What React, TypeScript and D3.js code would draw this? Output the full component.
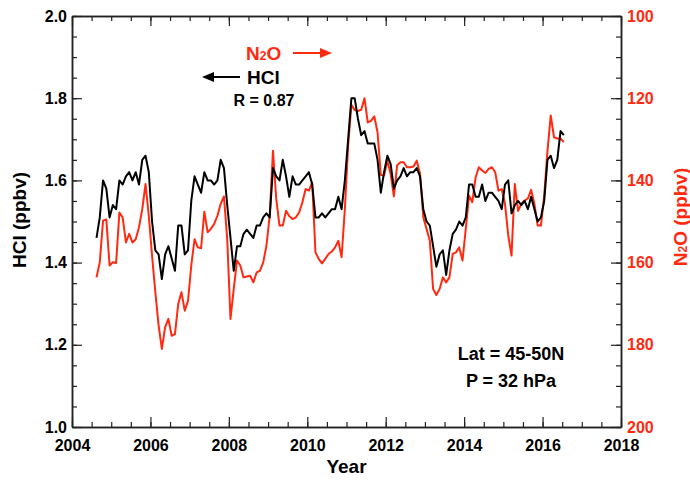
import * as d3 from "d3";
import { useEffect, useRef } from "react";

// monthly means, first month Aug 2004
const startYear = 2004;
const startMonth = 8;

const hcl = [
  1.46, 1.51, 1.6, 1.58, 1.51, 1.54, 1.53, 1.6, 1.59, 1.61, 1.62, 1.6, 1.62, 1.59, 1.65, 1.66,
  1.62, 1.5, 1.43, 1.42, 1.36, 1.42, 1.44, 1.41, 1.38, 1.49, 1.49, 1.42, 1.43, 1.55, 1.61, 1.59,
  1.57, 1.62, 1.6, 1.6, 1.59, 1.6, 1.65, 1.63, 1.54, 1.46, 1.38, 1.44, 1.44, 1.47, 1.48, 1.47,
  1.46, 1.49, 1.49, 1.51, 1.52, 1.51, 1.63, 1.61, 1.6, 1.65, 1.61, 1.56, 1.61, 1.59, 1.59, 1.6,
  1.61, 1.62, 1.59, 1.51, 1.51, 1.52, 1.51, 1.52, 1.53, 1.53, 1.56, 1.53, 1.6, 1.7, 1.8, 1.8,
  1.75, 1.71, 1.72, 1.69, 1.69, 1.69, 1.65, 1.57, 1.62, 1.66, 1.64, 1.58, 1.6, 1.61, 1.63, 1.61,
  1.62, 1.62, 1.63, 1.61, 1.53, 1.5, 1.49, 1.44, 1.39, 1.42, 1.43, 1.37, 1.43, 1.47, 1.48, 1.5,
  1.49, 1.51, 1.59, 1.59, 1.56, 1.56, 1.59, 1.55, 1.57, 1.57, 1.56, 1.55, 1.53, 1.59, 1.6, 1.52,
  1.54, 1.55, 1.54, 1.55, 1.53, 1.56, 1.53, 1.5, 1.51, 1.55, 1.65, 1.66, 1.63, 1.65, 1.72, 1.71,
];

const n2o = [
  163.6, 159.9, 149.8, 149.5, 160.7, 159.9, 160.1, 147.8, 149.0, 155.1, 153.0, 155.1, 154.3, 151.4, 147.0, 140.9,
  148.6, 158.3, 167.2, 175.3, 181.0, 175.7, 173.7, 177.8, 177.4, 170.1, 167.2, 171.7, 169.3, 160.7, 154.3, 156.3,
  156.5, 147.6, 152.6, 151.8, 150.6, 148.6, 145.7, 143.9, 154.3, 173.7, 166.4, 159.5, 160.7, 163.6, 163.4, 163.2,
  164.8, 162.4, 162.0, 160.0, 155.9, 148.6, 132.8, 144.5, 151.0, 151.0, 147.4, 148.7, 149.4, 149.0, 147.8, 145.3,
  142.1, 142.5, 140.5, 157.5, 159.1, 160.2, 159.1, 157.9, 157.3, 156.3, 154.7, 158.7, 147.0, 131.5, 121.6, 122.9,
  123.1, 122.8, 120.0, 125.9, 125.5, 124.4, 128.3, 138.7, 138.8, 135.2, 138.4, 143.9, 136.3, 135.6, 135.6, 136.8,
  136.8, 136.6, 135.2, 138.4, 149.0, 151.8, 154.7, 166.4, 167.9, 166.4, 163.6, 164.8, 163.6, 157.9, 157.5, 156.3,
  159.5, 151.8, 143.7, 145.3, 139.3, 136.8, 137.6, 138.2, 137.2, 136.8, 138.0, 142.5, 142.1, 145.7, 153.4, 158.3,
  140.9, 147.4, 145.7, 144.9, 144.4, 142.3, 145.7, 151.0, 151.0, 143.7, 132.8, 124.2, 129.5, 129.8, 129.8, 130.7,
];

const yearTicks = [2004, 2006, 2008, 2010, 2012, 2014, 2016, 2018];
const hclTicks = [1.0, 1.2, 1.4, 1.6, 1.8, 2.0];
const n2oTicks = [100, 120, 140, 160, 180, 200];

const RED = "#ff2a10";
const FONT = "'Liberation Sans', Arial, Helvetica, sans-serif";

export default function App() {
  const ref = useRef<SVGSVGElement>(null);

  useEffect(() => {
    const svg = d3.select(ref.current);
    const width = 690;
    const height = 480;
    const margin = { top: 16, right: 69, bottom: 53, left: 72 };

    svg.selectAll("*").remove();

    const x = d3.scaleLinear().domain([2004, 2018]).range([margin.left, width - margin.right]);
    const yL = d3.scaleLinear().domain([1.0, 2.0]).range([height - margin.bottom, margin.top]);
    const yR = d3.scaleLinear().domain([200, 100]).range([height - margin.bottom, margin.top]);

    const t = (i: number) => startYear + (startMonth - 1 + i + 0.5) / 12;

    const styleAxis = (g: d3.Selection<SVGGElement, unknown, null, undefined>, color = "#000") => {
      g.select(".domain").attr("stroke", "#222").attr("stroke-width", 1.5);
      g.selectAll(".tick line").attr("stroke", "#222").attr("stroke-width", 1.2);
      g.selectAll("text")
        .attr("fill", color)
        .attr("font-family", FONT)
        .attr("font-weight", "bold")
        .attr("font-size", 16);
    };

    const bottom = height - margin.bottom;
    const right = width - margin.right;

    // minor ticks
    const minorX = d3.range(2004, 2018.01, 0.5);
    const minorL = d3.range(1.0, 2.001, 0.05);
    const minorR = d3.range(100, 200.1, 5);

    svg.append("g").attr("transform", `translate(0,${bottom})`)
      .call(d3.axisBottom(x).tickValues(minorX).tickSize(-5).tickSizeOuter(0).tickFormat(() => ""))
      .call((g) => styleAxis(g));
    svg.append("g").attr("transform", `translate(0,${margin.top})`)
      .call(d3.axisTop(x).tickValues(minorX).tickSize(-5).tickSizeOuter(0).tickFormat(() => ""))
      .call((g) => styleAxis(g));
    svg.append("g").attr("transform", `translate(${margin.left},0)`)
      .call(d3.axisLeft(yL).tickValues(minorL).tickSize(-5).tickSizeOuter(0).tickFormat(() => ""))
      .call((g) => styleAxis(g));
    svg.append("g").attr("transform", `translate(${right},0)`)
      .call(d3.axisRight(yR).tickValues(minorR).tickSize(-5).tickSizeOuter(0).tickFormat(() => ""))
      .call((g) => styleAxis(g));

    // major ticks
    svg.append("g").attr("transform", `translate(0,${bottom})`)
      .call(d3.axisBottom(x).tickValues(yearTicks).tickSize(-10).tickSizeOuter(0).tickPadding(13).tickFormat(d3.format("d")))
      .call((g) => styleAxis(g));
    svg.append("g").attr("transform", `translate(0,${margin.top})`)
      .call(d3.axisTop(x).tickValues(yearTicks).tickSize(-10).tickSizeOuter(0).tickFormat(() => ""))
      .call((g) => styleAxis(g));
    svg.append("g").attr("transform", `translate(${margin.left},0)`)
      .call(d3.axisLeft(yL).tickValues(hclTicks).tickSize(-10).tickSizeOuter(0).tickPadding(5).tickFormat(d3.format(".1f")))
      .call((g) => styleAxis(g));
    svg.append("g").attr("transform", `translate(${right},0)`)
      .call(d3.axisRight(yR).tickValues(n2oTicks).tickSize(-10).tickSizeOuter(0).tickPadding(6).tickFormat(d3.format("d")))
      .call((g) => styleAxis(g, RED));

    // series
    const lineL = d3.line<number>().x((_, i) => x(t(i))).y((d) => yL(d));
    const lineR = d3.line<number>().x((_, i) => x(t(i))).y((d) => yR(d));

    svg.append("path").datum(n2o)
      .attr("fill", "none").attr("stroke", RED).attr("stroke-width", 2).attr("stroke-linejoin", "round")
      .attr("d", lineR);
    svg.append("path").datum(hcl)
      .attr("fill", "none").attr("stroke", "#000").attr("stroke-width", 2).attr("stroke-linejoin", "round")
      .attr("d", lineL);

    // axis titles
    const txt = (sx: number, sy: number, s: string, size: number, color = "#000", anchor = "middle") =>
      svg.append("text")
        .attr("x", sx).attr("y", sy)
        .attr("text-anchor", anchor)
        .attr("font-family", FONT).attr("font-weight", "bold").attr("font-size", size)
        .attr("fill", color)
        .text(s);

    txt((margin.left + right) / 2, 473, "Year", 19);
    txt(0, 0, "HCl (ppbv)", 19).attr("transform", "translate(26,220) rotate(-90)");
    const n2oTitle = svg.append("text")
      .attr("transform", "translate(687,217) rotate(-90)")
      .attr("text-anchor", "middle")
      .attr("font-family", FONT).attr("font-weight", "bold").attr("font-size", 19)
      .attr("fill", RED);
    n2oTitle.append("tspan").text("N");
    n2oTitle.append("tspan").attr("font-size", 12).text("2");
    n2oTitle.append("tspan").text("O (ppbv)");

    // legend arrows
    const n2oLabel = svg.append("text")
      .attr("x", 246).attr("y", 60)
      .attr("font-family", FONT).attr("font-weight", "bold").attr("font-size", 19)
      .attr("fill", RED);
    n2oLabel.append("tspan").text("N");
    n2oLabel.append("tspan").attr("font-size", 12).text("2");
    n2oLabel.append("tspan").text("O");

    svg.append("line").attr("x1", 293).attr("x2", 322).attr("y1", 53).attr("y2", 53)
      .attr("stroke", RED).attr("stroke-width", 2);
    svg.append("path").attr("d", "M332,53 L320,48 L320,58 Z").attr("fill", RED);

    svg.append("line").attr("x1", 212).attr("x2", 240).attr("y1", 77).attr("y2", 77)
      .attr("stroke", "#000").attr("stroke-width", 2);
    svg.append("path").attr("d", "M202,77 L214,72 L214,82 Z").attr("fill", "#000");
    txt(247, 84, "HCl", 19, "#000", "start");
    txt(264, 106, "R = 0.87", 16);

    txt(511, 360, "Lat = 45-50N", 18);
    txt(511, 387, "P = 32 hPa", 18);
  }, []);

  return (
    <svg
      ref={ref}
      width={690}
      height={480}
      style={{ position: "absolute", left: 0, top: 0, background: "#fff" }}
    />
  );
}
